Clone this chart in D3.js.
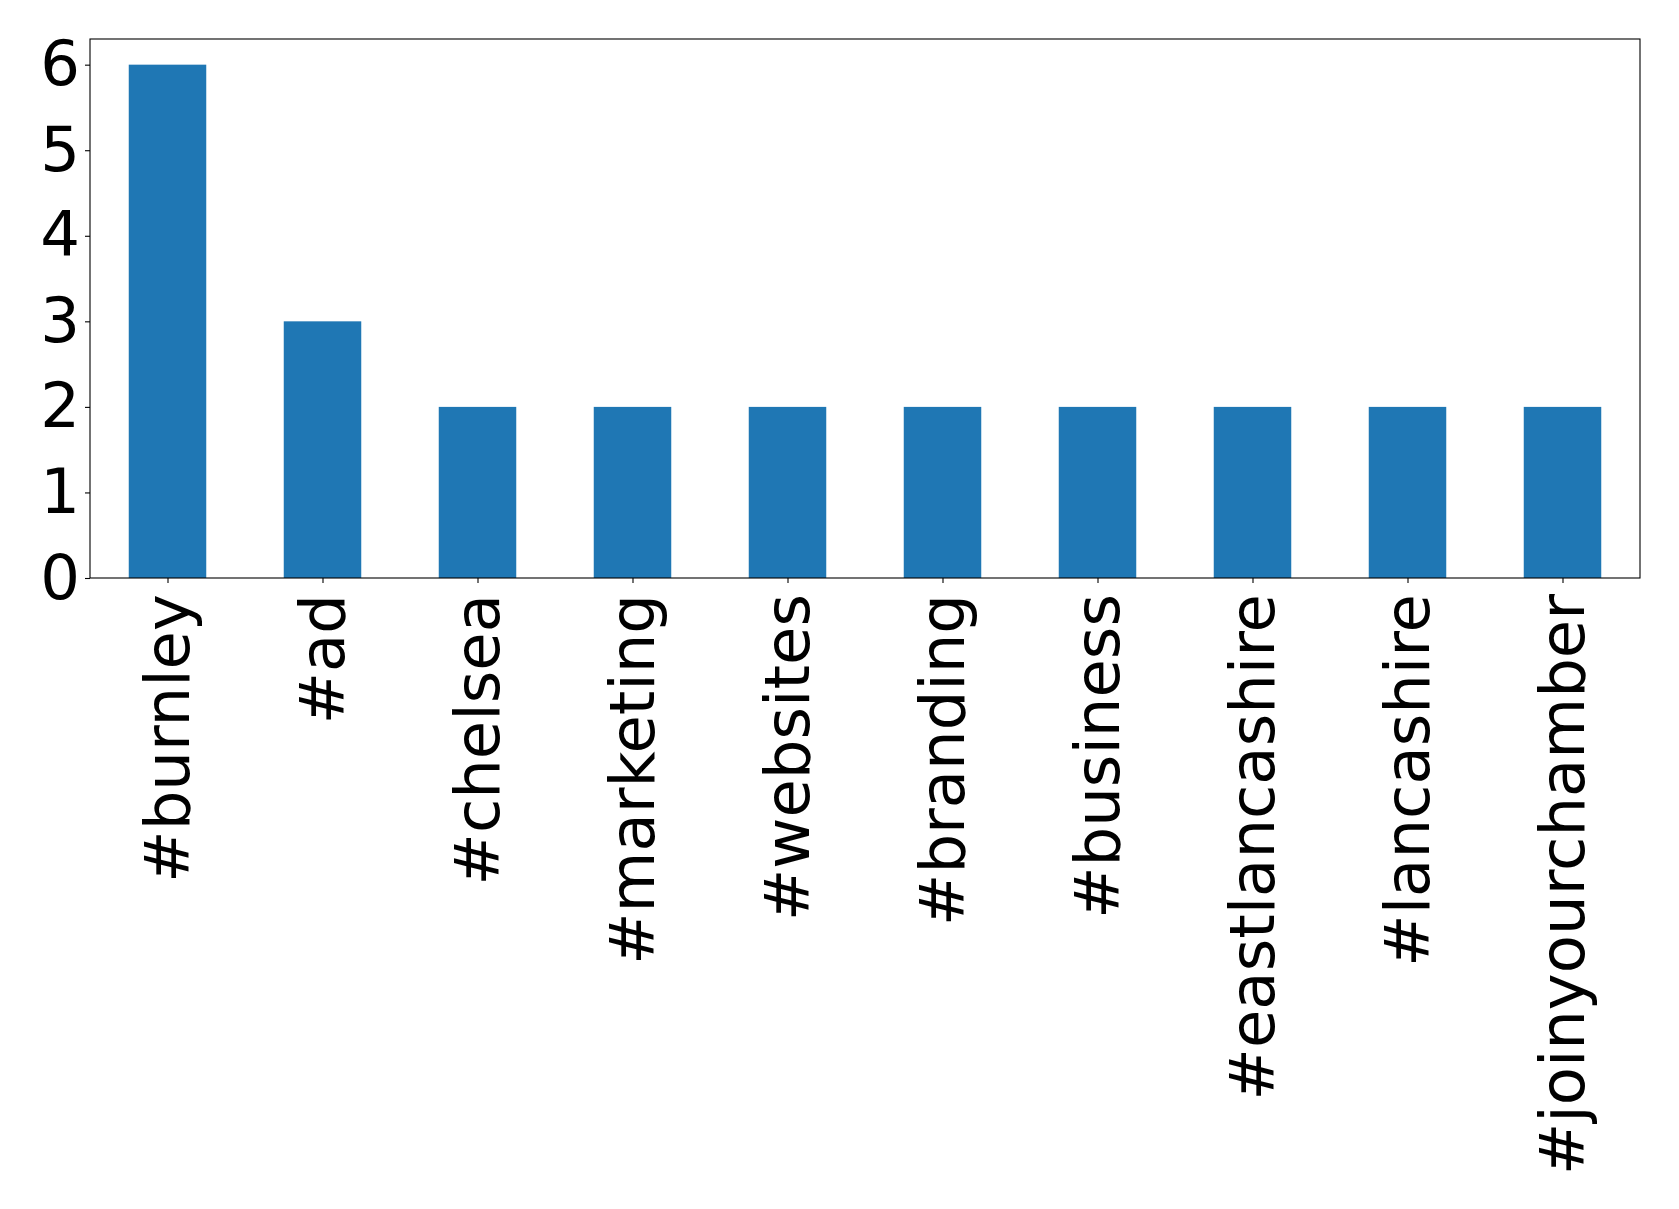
<!DOCTYPE html>
<html><head><meta charset="utf-8">
<script src="https://cdn.jsdelivr.net/npm/d3@7"></script>
<style>body{margin:0;background:#fff}svg{display:block}text{font-family:"DejaVu Sans",sans-serif}</style>
</head><body><svg id="c" width="1679" height="1209"></svg>
<script>
const categories = ["#burnley","#ad","#chelsea","#marketing","#websites","#branding","#business","#eastlancashire","#lancashire","#joinyourchamber"];
const values = [6,3,2,2,2,2,2,2,2,2];
const yTicks = [0,1,2,3,4,5,6];

const svg = d3.select("#c");
const L = 90, R = 1640, T = 39, B = 578;
const fs = 62.5;
const x = d3.scaleLinear().domain([-0.5, categories.length - 0.5]).range([L, R]);
const y = d3.scaleLinear().domain([0, 6.3]).range([B, T]);

svg.append("g").selectAll("rect").data(values).join("rect")
  .attr("x", (d,i) => x(i - 0.25)).attr("width", (d,i) => x(i + 0.25) - x(i - 0.25))
  .attr("y", d => y(d)).attr("height", d => y(0) - y(d))
  .attr("fill", "#1f77b4");

svg.append("rect").attr("x", L).attr("y", T).attr("width", R - L).attr("height", B - T)
  .attr("fill", "none").attr("stroke", "#000").attr("stroke-width", 1.1);

const yAxis = svg.append("g").attr("transform", `translate(${L},0)`)
  .call(d3.axisLeft(y).tickValues(yTicks).tickFormat(d3.format("d")).tickSize(5).tickPadding(5));
yAxis.select(".domain").remove();
yAxis.selectAll("line").attr("stroke", "#000").attr("stroke-width", 1.1);
yAxis.selectAll("text").attr("font-size", fs).attr("fill", "#000").attr("font-family", "DejaVu Sans");

const xAxis = svg.append("g").attr("transform", `translate(0,${B})`)
  .call(d3.axisBottom(x).tickValues(d3.range(categories.length)).tickFormat(i => categories[i]).tickSize(5).tickPadding(5));
xAxis.select(".domain").remove();
xAxis.selectAll("line").attr("stroke", "#000").attr("stroke-width", 1.1);
xAxis.selectAll("text").attr("font-size", fs).attr("fill", "#000").attr("font-family", "DejaVu Sans")
  .attr("text-anchor", "end").attr("y", 0).attr("dy", "0.33em")
  .attr("transform", "translate(0,16) rotate(-90)");
</script></body></html>
